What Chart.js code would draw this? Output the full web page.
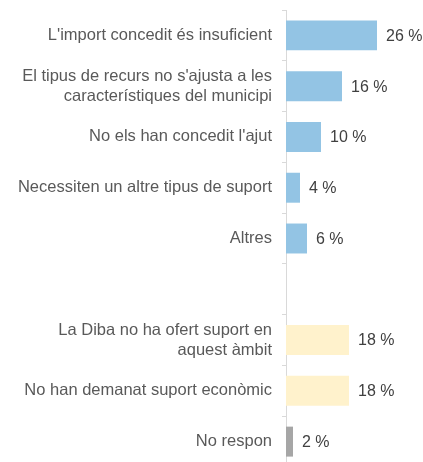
<!DOCTYPE html>
<html>
<head>
<meta charset="utf-8">
<script src="https://cdn.jsdelivr.net/npm/chart.js@4/dist/chart.umd.min.js"></script>
<style>
    html, body {margin: 0; padding: 0; background: #fff; overflow: hidden;}
    /* el marc continua una mica per sota de la finestra, com a l'original */
    #wrap {width: 423px; height: 467px;}
</style>
</head>
<body>
<div id="wrap"><canvas id="motiusChart"></canvas></div>
<script>
// Dades
const categories = [
    "L'import concedit és insuficient",
    ["El tipus de recurs no s'ajusta a les", "característiques del municipi"],
    "No els han concedit l'ajut",
    "Necessiten un altre tipus de suport",
    "Altres",
    "",
    ["La Diba no ha ofert suport en", "aquest àmbit"],
    "No han demanat suport econòmic",
    "No respon"
];
const values = [26, 16, 10, 4, 6, null, 18, 18, 2];
const barColors = ['#93c4e4', '#93c4e4', '#93c4e4', '#93c4e4', '#93c4e4', '#93c4e4', '#fff2cc', '#fff2cc', '#a6a6a6'];

// Etiquetes de valor al final de cada barra
const valueLabels = {
    id: 'valueLabels',
    afterDatasetsDraw(chart) {
        const ctx = chart.ctx;
        const meta = chart.getDatasetMeta(0);
        ctx.save();
        ctx.font = '16px "Liberation Sans", Arial, sans-serif';
        ctx.fillStyle = '#404040';
        ctx.textBaseline = 'middle';
        ctx.textAlign = 'left';
        meta.data.forEach((bar, i) => {
            if (values[i] == null) return;
            ctx.fillText(values[i] + ' %', bar.x + 9, bar.y + 1);
        });
        ctx.restore();
    }
};

new Chart(document.getElementById('motiusChart'), {
    type: 'bar',
    data: {
        labels: categories,
        datasets: [{
            data: values,
            backgroundColor: barColors,
            barPercentage: 0.59,
            categoryPercentage: 1
        }]
    },
    options: {
        indexAxis: 'y',
        responsive: true,
        maintainAspectRatio: false,
        animation: false,
        layout: {padding: {top: 10, bottom: 0, right: 4, left: 0}},
        scales: {
            x: {display: false, min: 0, max: 38},
            y: {
                afterFit: s => {
                    s.width = 286;
                    s.paddingTop = 0;
                    s.paddingBottom = 0;
                },
                border: {color: '#d9d9d9'},
                grid: {drawOnChartArea: false, tickLength: 4, color: '#d9d9d9'},
                ticks: {
                    padding: 10,
                    color: '#595959',
                    font: {family: '"Liberation Sans", Arial, sans-serif', size: 16.5, lineHeight: 1.2}
                }
            }
        },
        plugins: {legend: {display: false}, tooltip: {enabled: false}}
    },
    plugins: [valueLabels]
});
</script>
</body>
</html>
